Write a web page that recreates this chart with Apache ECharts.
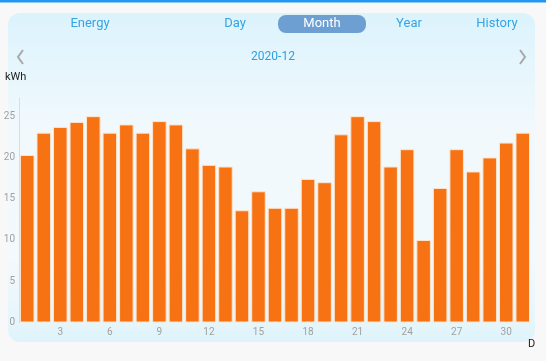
<!DOCTYPE html>
<html><head><meta charset="utf-8">
<script src="https://cdn.jsdelivr.net/npm/echarts@6/dist/echarts.min.js"></script>
<style>html,body{margin:0;padding:0;background:#f8f8f8;}#c{width:546px;height:361px;}</style>
</head><body><div id="c"></div>
<script>
var days = ['1','2','3','4','5','6','7','8','9','10','11','12','13','14','15','16','17','18','19','20','21','22','23','24','25','26','27','28','29','30','31'];
var energy = [20.3,23.0,23.7,24.3,25.0,23.0,24.0,23.0,24.4,24.0,21.1,19.1,18.9,13.6,15.9,13.9,13.9,17.4,17.0,22.8,25.0,24.4,18.9,21.0,10.0,16.3,21.0,18.3,20.0,21.8,23.0];
var yTicks = [0,5,10,15,20,25];
var tabs = ['Energy','Day','Month','Year','History'];
var period = '2020-12';
var yUnit = 'kWh', xUnit = 'D';

var chart = echarts.init(document.getElementById('c'), null, {renderer:'canvas'});
var tabX = [90,235,322,409,497];
var g = [
  {type:'rect', z:-10, shape:{x:0,y:0,width:546,height:2.5}, style:{fill:'#2196f3'}},
  {type:'rect', z:-10, shape:{x:8,y:13,width:527,height:329,r:12},
   style:{fill:new echarts.graphic.LinearGradient(0,0,0,1,[
     {offset:0,color:'#dcf3fc'},{offset:0.35,color:'#f1f9fd'},{offset:0.75,color:'#f3f9fc'},{offset:0.93,color:'#e6f6fc'},{offset:1,color:'#dff3fa'}])}},
  {type:'rect', z:-9, shape:{x:278,y:15,width:88,height:18,r:8}, style:{fill:'#6d9fd3'}},
  {type:'polyline', z:5, shape:{points:[[23,50],[18,57],[23,64]]}, style:{stroke:'#a8a8a8',lineWidth:2,fill:null}},
  {type:'polyline', z:5, shape:{points:[[520,50],[525,57],[520,64]]}, style:{stroke:'#a8a8a8',lineWidth:2,fill:null}},
  {type:'text', z:5, left:5, top:72, style:{text:yUnit,fill:'#222',font:'11px Roboto'}},
  {type:'text', z:5, left:528, top:339, style:{text:xUnit,fill:'#222',font:'11px Roboto'}},
  {type:'text', z:5, x:273, y:57, style:{text:period,fill:'#2f9fe0',font:'12px Roboto',align:'center',verticalAlign:'middle'}}
];
tabs.forEach(function(t,i){
  g.push({type:'text', z:5, x:tabX[i], y:24, style:{text:t, fill: i===2?'#ffffff':'#36a3e3', font:'13px Roboto', align:'center', verticalAlign:'middle'}});
});

chart.setOption({
  animation:false,
  graphic:g,
  grid:{left:19,right:15,top:98,bottom:38.5,containLabel:false},
  xAxis:{type:'category', data:days,
    axisLine:{show:false}, axisTick:{show:false},
    axisLabel:{color:'#a0a0a0', fontSize:10, fontFamily:'Roboto', margin:5,
      interval:function(i){return (i+1)%3===0;}}},
  yAxis:{type:'value', min:0, max:27.2, interval:5,
    axisLine:{show:true, lineStyle:{color:'#d8dde0',width:1}},
    axisTick:{show:false}, splitLine:{show:false},
    axisLabel:{color:'#a0a0a0', fontSize:10, fontFamily:'Roboto', margin:4,
      formatter:function(v){return yTicks.indexOf(v)>=0?String(v):'';}}},
  series:[{type:'bar', data:energy, barCategoryGap:'12%',
    itemStyle:{color:'#f77213', borderColor:'#fde4cc', borderWidth:1}}]
});
</script></body></html>
